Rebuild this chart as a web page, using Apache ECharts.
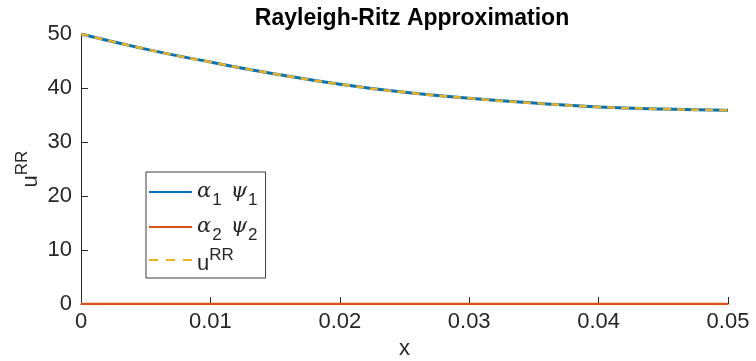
<!DOCTYPE html>
<html><head><meta charset="utf-8">
<script src="https://cdn.jsdelivr.net/npm/echarts@6/dist/echarts.min.js"></script>
<style>html,body{margin:0;padding:0;background:#fff}#c{width:756px;height:361px}</style>
</head><body><div id="c"></div>
<script>
const xs = [0, 0.005, 0.01, 0.015, 0.02, 0.025, 0.03, 0.035, 0.04, 0.045, 0.05];
const term1 = [50, 47.2, 44.8, 42.6, 40.7, 39.2, 38.1, 37.2, 36.5, 36.1, 35.9];
const term2 = [0, 0, 0, 0, 0, 0, 0, 0, 0, 0, 0];
const uRR = [50, 47.2, 44.8, 42.6, 40.7, 39.2, 38.1, 37.2, 36.5, 36.1, 35.9];
const xTicks = [0, 0.01, 0.02, 0.03, 0.04, 0.05];
const yTicks = [0, 10, 20, 30, 40, 50];

const pairs = a => xs.map((x, i) => [x, a[i]]);
const FONT = '"Liberation Sans",Arial,sans-serif';
const C = '#262626';
const rich = {
  g: {fontFamily: 'DejaVu Serif', fontStyle: 'italic', fontSize: 21, color: C, lineHeight: 20},
  g2: {fontFamily: 'DejaVu Serif', fontStyle: 'italic', fontSize: 21, color: C, lineHeight: 20, padding: [0, 0, 0, 9]},
  sub: {fontFamily: FONT, fontSize: 17, color: C, padding: [17, 0, 0, 1], lineHeight: 20},
  u: {fontFamily: FONT, fontSize: 22, color: C, padding: [8, 0, 0, 0], lineHeight: 20},
  sup: {fontFamily: FONT, fontSize: 17, color: C, padding: [0, 0, 9, 0], lineHeight: 20}
};
const chart = echarts.init(document.getElementById('c'));
chart.setOption({
  animation: false,
  title: {text: 'Rayleigh-Ritz Approximation', left: 407, textAlign: 'center', top: 2,
    textStyle: {fontFamily: FONT, fontWeight: 'bold', fontSize: 23, color: '#000'}},
  grid: {left: 81, right: 28, top: 34, bottom: 57, outerBoundsMode: 'none', containLabel: false},
  xAxis: {type: 'value', min: 0, max: 0.05, interval: 0.01,
    name: 'x', nameLocation: 'middle', nameGap: 34, nameMoveOverlap: false,
    nameTextStyle: {fontFamily: FONT, fontSize: 22, color: C},
    axisLine: {lineStyle: {color: C, width: 1}},
    axisTick: {inside: true, length: 7, lineStyle: {color: C}},
    splitLine: {show: false},
    axisLabel: {fontFamily: FONT, fontSize: 22, color: C, margin: 7,
      formatter: v => (xTicks.indexOf(+v.toFixed(2)) >= 0 ? String(+v.toFixed(2)) : '')}},
  yAxis: {type: 'value', min: 0, max: 50, interval: 10,
    name: '{u|u}{sup|RR}', nameLocation: 'middle', nameGap: 44, nameRotate: 90, nameMoveOverlap: false,
    nameTextStyle: {rich: rich},
    axisLine: {show: true, lineStyle: {color: C, width: 1}},
    axisTick: {show: true, inside: true, length: 7, lineStyle: {color: C}},
    splitLine: {show: false},
    axisLabel: {fontFamily: FONT, fontSize: 22, color: C, margin: 9,
      formatter: v => (yTicks.indexOf(v) >= 0 ? String(v) : '')}},
  legend: {orient: 'vertical', left: 146, top: 172, padding: [3, 8, 3, 3], itemGap: 1,
    itemWidth: 43, itemHeight: 12,
    backgroundColor: '#fff', borderColor: '#3c3c3c', borderWidth: 1,
    data: [
      {name: 'a1', icon: 'path://M0,5H43V7H0Z', itemStyle: {color: '#0072BD'}},
      {name: 'a2', icon: 'path://M0,5H43V7H0Z', itemStyle: {color: '#D95319'}},
      {name: 'u', icon: 'path://M0,5H9V7H0ZM17,5H26V7H17ZM34,5H43V7H34Z', itemStyle: {color: '#EDB120'}}
    ],
    textStyle: {rich: rich},
    formatter: n => n === 'a1' ? '{g|α}{sub|1}{g2|ψ}{sub|1}' : n === 'a2' ? '{g|α}{sub|2}{g2|ψ}{sub|2}' : '{u|u}{sup|RR}'},
  series: [
    {name: 'a1', type: 'line', data: pairs(term1), smooth: true, showSymbol: false,
      lineStyle: {color: '#0072BD', width: 3}, itemStyle: {color: '#0072BD'}},
    {name: 'a2', type: 'line', data: pairs(term2), showSymbol: false,
      lineStyle: {color: '#D95319', width: 2.5}, itemStyle: {color: '#D95319'}},
    {name: 'u', type: 'line', data: pairs(uRR), smooth: true, showSymbol: false,
      lineStyle: {color: '#EDB120', width: 2.5, type: [8, 6]}, itemStyle: {color: '#EDB120'}}
  ]
});
</script></body></html>
